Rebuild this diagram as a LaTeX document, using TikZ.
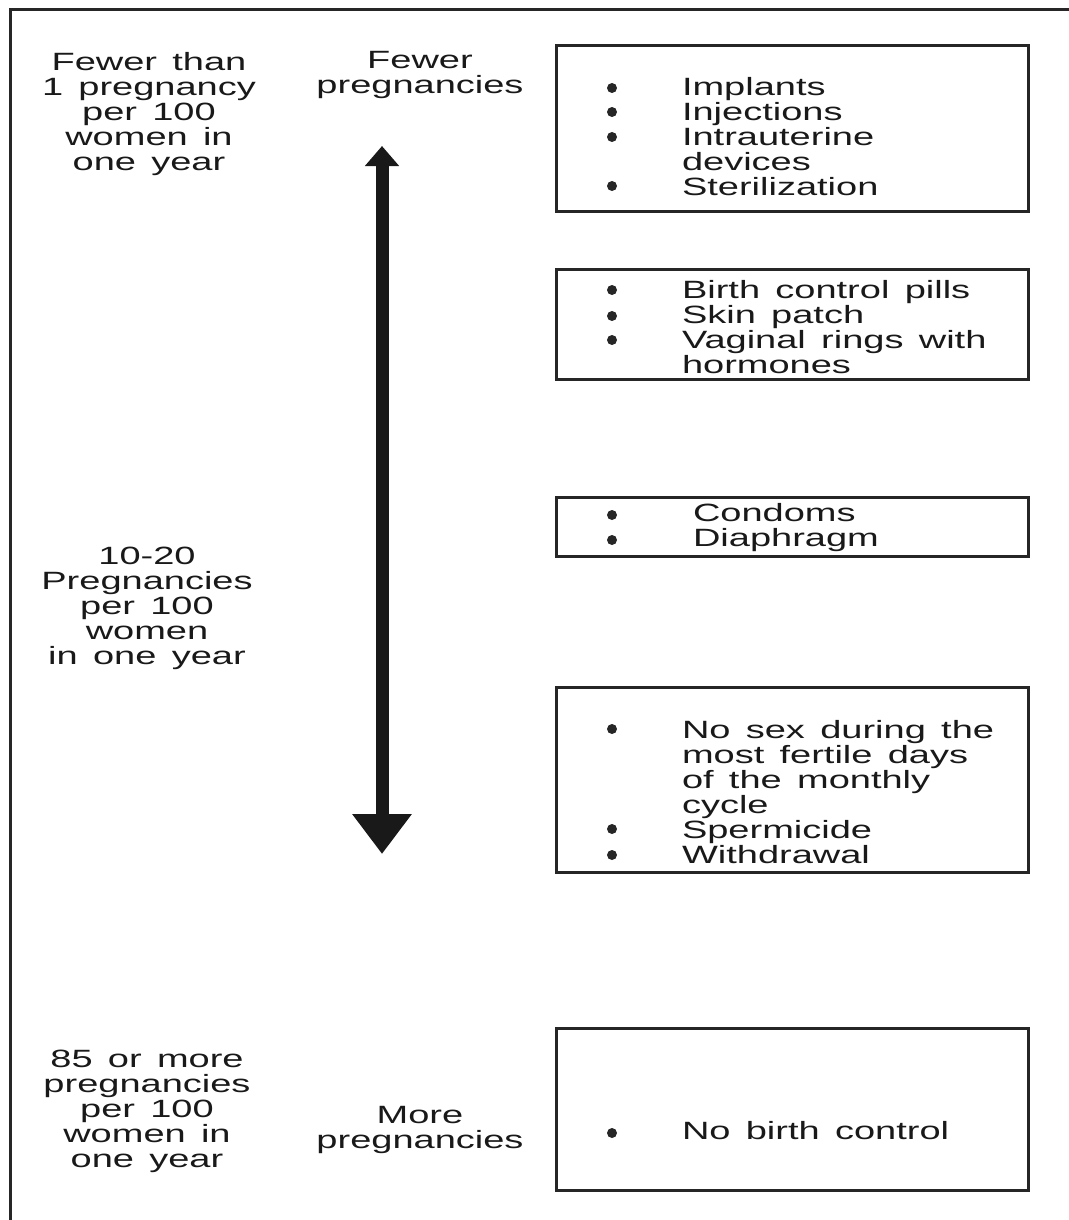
\documentclass[tikz,border=0pt]{standalone}
\usepackage{fontspec}
\setmainfont[FakeStretch=1.52,WordSpace=1.45]{Liberation Sans}
\usetikzlibrary{arrows.meta}
\begin{document}
\begin{tikzpicture}[x=1pt,y=-1pt]
\tikzstyle{every node}=[inner sep=0pt,outer sep=0pt,text=black!90,font=\fontsize{25}{25}\selectfont]
\tikzstyle{box}=[draw=black!85,line width=3pt,minimum width=472pt,anchor=north west]
\tikzstyle{dot}=[circle,fill=black!85,minimum size=10pt]
\tikzstyle{lbl}=[align=center]
\tikzstyle{items}=[align=left,anchor=west]

\useasboundingbox (0,0) rectangle (1068,1220);
\draw[line width=3pt,black!85] (1080,10) -- (10,10) -- (10,1230);

% left column
\node[lbl](r1) at (149,114) {Fewer than\\1 pregnancy\\per 100\\women in\\one year};
\node[lbl](r2) at (147,608) {10-20\\Pregnancies\\per 100\\women\\in one year};
\node[lbl](r3) at (147,1111) {85 or more\\pregnancies\\per 100\\women in\\one year};

% arrow
\node[lbl](few) at (420,75) {Fewer\\pregnancies};
\node[lbl](more) at (420,1130) {More\\pregnancies};
\coordinate (up) at (382,146);
\coordinate (down) at (382,854);
\draw[line width=13pt,black!90,{Triangle[width=33pt,length=20pt]}-{Triangle[width=57pt,length=40pt]}] (up) -- (down);

% boxes
\node[box,minimum height=165pt](b1) at (556,46) {};
\node[box,minimum height=110pt](b2) at (556,269) {};
\node[box,minimum height=59pt](b3) at (556,497) {};
\node[box,minimum height=185pt](b4) at (556,687) {};
\node[box,minimum height=162pt](b5) at (556,1028) {};

\node[items](t1) at (682,137) {Implants\\Injections\\Intrauterine\\devices\\Sterilization};
\node[dot](d11) at (612,88) {};
\node[dot](d12) at (612,112) {};
\node[dot](d13) at (612,137) {};
\node[dot](d14) at (612,186) {};

\node[items](t2) at (682,327) {Birth control pills\\Skin patch\\Vaginal rings with\\hormones};
\node[dot](d21) at (612,290) {};
\node[dot](d22) at (612,316) {};
\node[dot](d23) at (612,340) {};

\node[items](t3) at (693,528) {Condoms\\Diaphragm};
\node[dot](d31) at (612,515) {};
\node[dot](d32) at (612,540) {};

\node[items](t4) at (682,792) {No sex during the\\most fertile days\\of the monthly\\cycle\\Spermicide\\Withdrawal};
\node[dot](d41) at (612,729) {};
\node[dot](d42) at (612,829) {};
\node[dot](d43) at (612,855) {};

\node[items](t5) at (682,1131) {No birth control};
\node[dot](d51) at (612,1133) {};
\end{tikzpicture}
\end{document}
